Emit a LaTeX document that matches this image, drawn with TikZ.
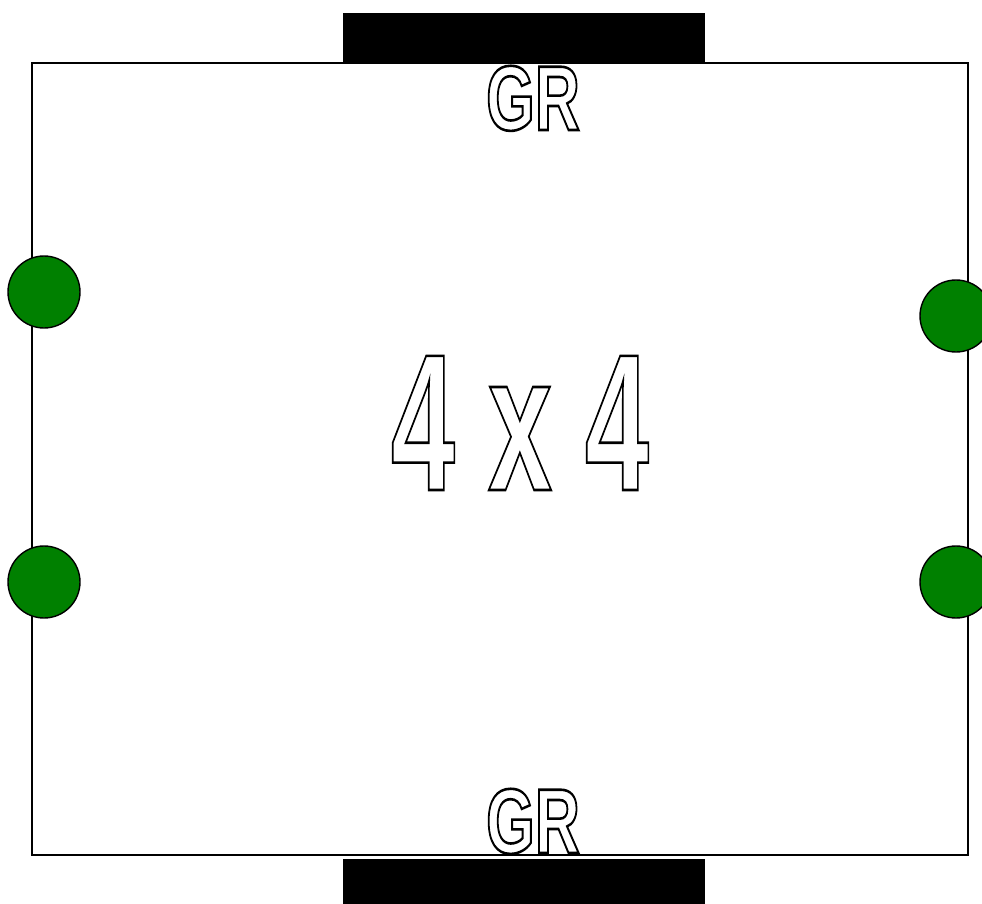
\documentclass[tikz,border=0pt]{standalone}
\usepackage{fontspec}
\setmainfont{Liberation Sans}
\newcommand{\outl}[2]{\special{pdf:literal direct 2 Tr #1 w 0 0 0 RG}#2\special{pdf:literal direct 0 Tr}}
\definecolor{pgreen}{HTML}{008000}
\begin{document}
\begin{tikzpicture}[x=1pt,y=-1pt,
  dot/.style={circle,draw=black,line width=1.4pt,fill=pgreen,minimum size=72pt,inner sep=0pt},
  bar/.style={fill=black,draw=none,inner sep=0pt,minimum width=362pt},
  lbl/.style={inner sep=0pt,anchor=base,text=white}]
\useasboundingbox (0,0) rectangle (982,904);
\node[draw=black,line width=1.4pt,minimum width=936pt,minimum height=792pt,inner sep=0pt] (board) at (500,459) {};
\node[bar,minimum height=50pt] (topbar) at (524,38) {};
\node[bar,minimum height=46pt] (botbar) at (524,882) {};
\node[dot] (l1) at (44,292) {};
\node[dot] (l2) at (44,582) {};
\node[dot] (r1) at (956,316) {};
\node[dot] (r2) at (956,582) {};
\node[lbl,font=\bfseries\fontsize{92}{92}\selectfont] (gtop) at (533,130) {\scalebox{0.68}[1]{\outl{2.6}{GR}}};
\node[lbl,font=\bfseries\fontsize{92}{92}\selectfont] (gbot) at (533,853) {\scalebox{0.68}[1]{\outl{2.6}{GR}}};
\node[lbl,font=\bfseries\fontsize{195}{195}\selectfont] (fa) at (423,490) {\scalebox{0.59}[1]{\outl{2.6}{4}}};
\node[lbl,font=\bfseries\fontsize{195}{195}\selectfont] (fx) at (520,490) {\scalebox{0.59}[1]{\outl{2.6}{x}}};
\node[lbl,font=\bfseries\fontsize{195}{195}\selectfont] (fb) at (617,490) {\scalebox{0.59}[1]{\outl{2.6}{4}}};
\end{tikzpicture}
\end{document}
